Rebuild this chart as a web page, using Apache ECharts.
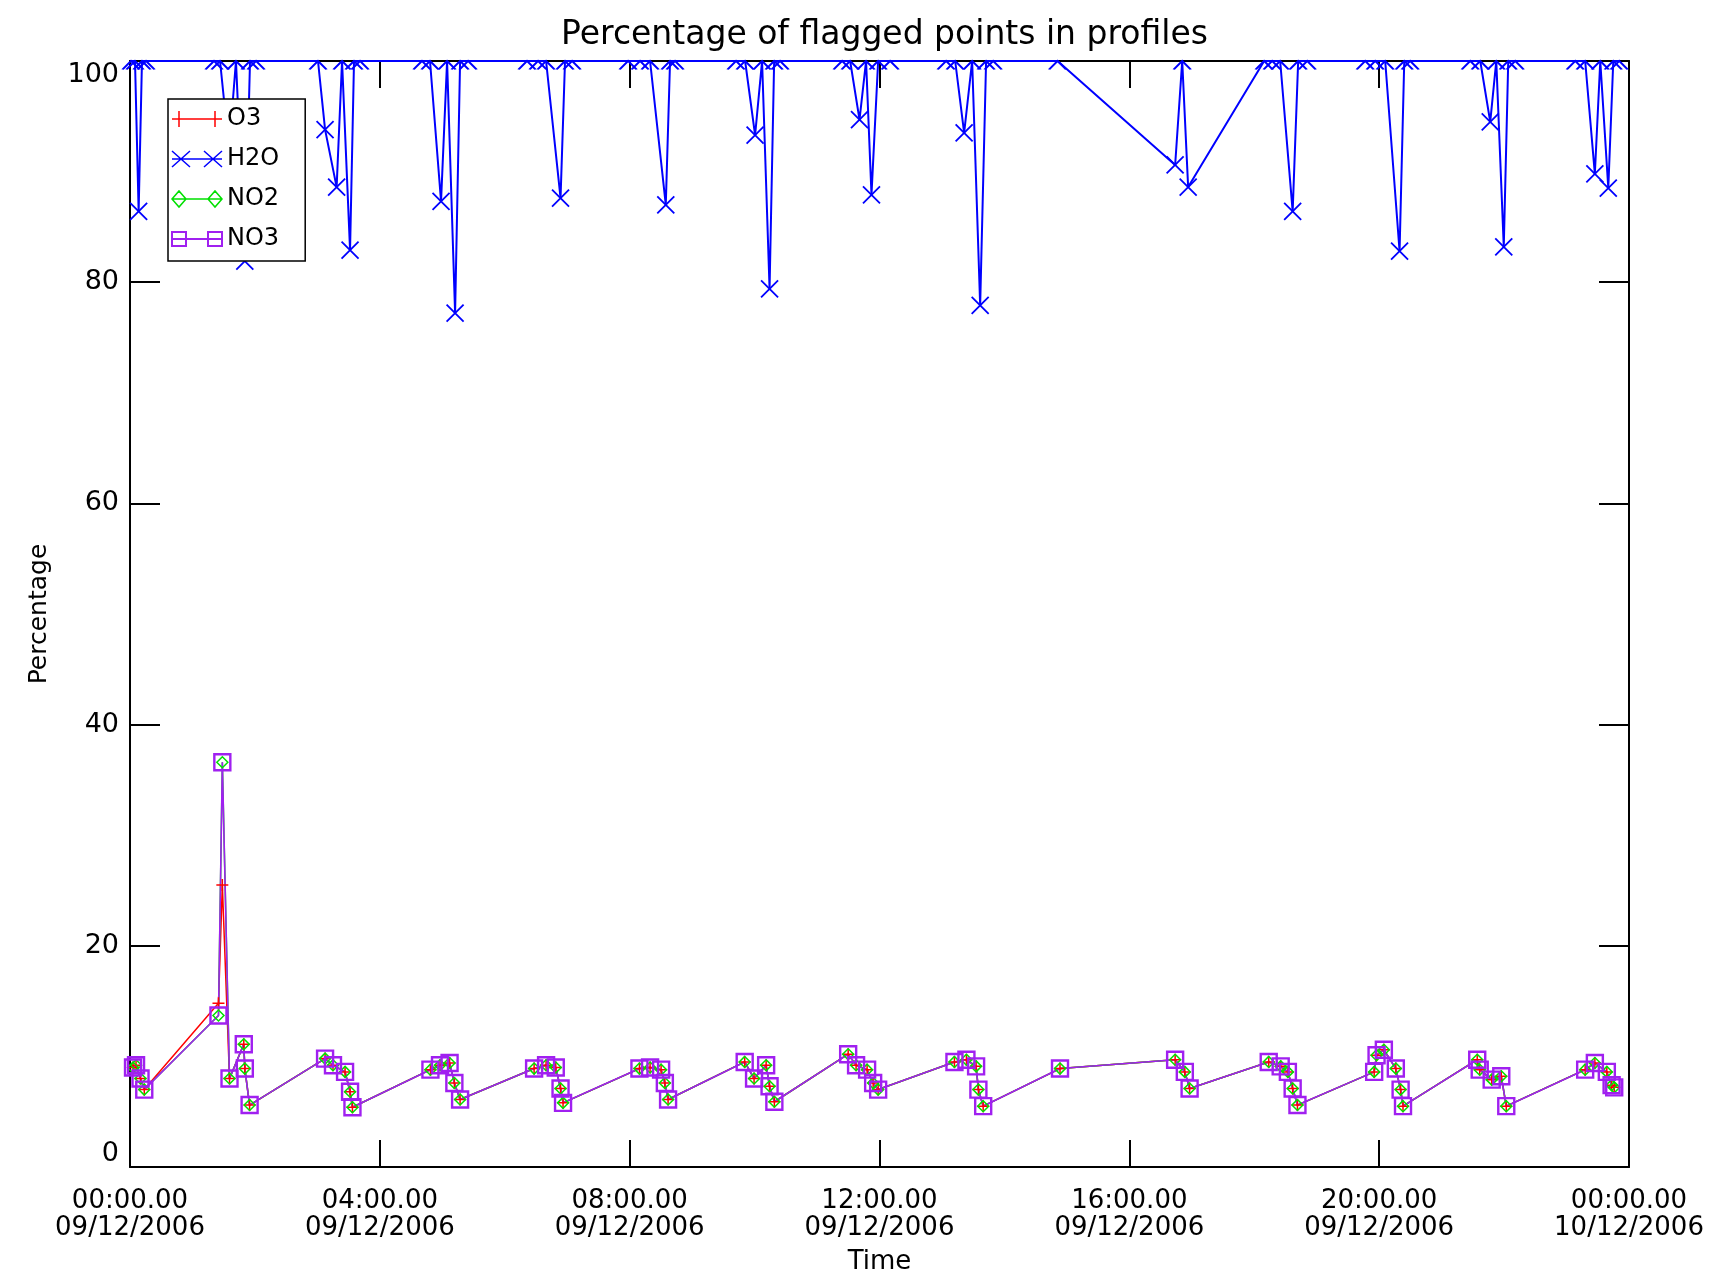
<!DOCTYPE html>
<html>
<head>
<meta charset="utf-8">
<script src="https://cdn.jsdelivr.net/npm/echarts@6/dist/echarts.min.js"></script>
<style>html,body{margin:0;padding:0;background:#fff}#c{width:1732px;height:1281px}</style>
</head>
<body>
<div id="c"></div>
<script>
// ---------- data (time in minutes since 00:00 on 09/12/2006) ----------
const seriesNames = ['O3', 'H2O', 'NO2', 'NO3'];
const xTickTimes = ['00:00.00', '04:00.00', '08:00.00', '12:00.00', '16:00.00', '20:00.00', '00:00.00'];
const xTickDates = ['09/12/2006', '09/12/2006', '09/12/2006', '09/12/2006', '09/12/2006', '09/12/2006', '10/12/2006'];
const yTicks = [0, 20, 40, 60, 80, 100];

const h2oTime = [1.0, 4.8, 8.3, 11.5, 15.4,
  80.7, 86.5, 95.1, 101.8, 110.3, 115.3, 121.1,
  180.6, 187.4, 198.5, 203.7, 211.4, 215.2, 221.0,
  280.5, 288.2, 298.8, 304.6, 312.3, 317.1, 324.8,
  381.4, 392.0, 399.7, 413.6, 417.9, 424.7,
  478.5, 490.0, 499.6, 514.7, 518.8, 523.6,
  582.2, 590.9, 600.5, 607.2, 614.4, 618.8, 624.5,
  684.1, 691.8, 700.8, 707.1, 712.3, 718.7, 730.2,
  784.0, 792.7, 801.3, 809.0, 816.7, 822.4, 829.2,
  891.1,
  1004.0, 1010.8, 1016.5,
  1089.5, 1097.2, 1104.9, 1116.9, 1122.2, 1130.9,
  1186.6, 1196.2, 1205.8, 1219.6, 1224.1, 1229.8,
  1287.5, 1297.1, 1306.7, 1312.5, 1319.7, 1324.0, 1330.7,
  1388.4, 1397.9, 1407.2, 1412.4, 1420.1, 1424.9, 1430.6];
const h2o = [100, 100, 86.4, 100, 100,
  100, 100, 92, 100, 81.9, 100, 100,
  100, 93.8, 88.6, 100, 82.9, 100, 100,
  100, 100, 87.3, 100, 77.2, 100, 100,
  100, 100, 100, 87.6, 100, 100,
  100, 100, 100, 87.0, 100, 100,
  100, 100, 93.3, 100, 79.4, 100, 100,
  100, 100, 94.7, 100, 87.9, 100, 100,
  100, 100, 93.5, 100, 77.9, 100, 100,
  100,
  90.6, 100, 88.6,
  100, 100, 100, 86.4, 100, 100,
  100, 100, 100, 82.8, 100, 100,
  100, 100, 94.5, 100, 83.2, 100, 100,
  100, 100, 89.8, 100, 88.5, 100, 100];

const nTime = [2.9, 5.8, 10.1, 13.7,
  85.0, 88.7, 95.6, 109.3, 110.3, 114.9,
  187.4, 195.0, 206.6, 211.4, 213.7,
  288.6, 297.8, 307.0, 311.6, 317.1,
  388.2, 399.7, 409.0, 413.6, 416.0,
  489.4, 499.6, 510.2, 513.8, 516.9,
  590.5, 599.5, 611.1, 614.4, 619.0,
  689.9, 697.5, 708.1, 713.9, 718.7,
  792.0, 803.5, 812.8, 815.0, 819.6,
  893.4,
  1004.0, 1013.3, 1017.9,
  1093.9, 1105.4, 1112.3, 1116.9, 1121.5,
  1195.2, 1197.5, 1204.5, 1216.0, 1220.6, 1222.9,
  1294.2, 1296.6, 1308.1, 1317.3, 1322.1,
  1397.9, 1407.2, 1418.7, 1423.3, 1425.8];
const no3 = [9.0, 9.2, 8.0, 7.0,
  13.7, 36.6, 8.0, 11.1, 8.9, 5.6,
  9.8, 9.2, 8.6, 6.8, 5.4,
  8.8, 9.2, 9.4, 7.6, 6.1,
  8.9, 9.2, 9.0, 7.1, 5.8,
  8.9, 9.0, 8.8, 7.6, 6.1,
  9.5, 8.0, 9.2, 7.3, 5.9,
  10.2, 9.2, 8.8, 7.6, 7.0,
  9.5, 9.7, 9.1, 7.0, 5.5,
  8.9,
  9.7, 8.6, 7.1,
  9.5, 9.1, 8.6, 7.1, 5.6,
  8.6, 10.1, 10.6, 8.9, 7.0, 5.5,
  9.7, 8.8, 7.9, 8.2, 5.5,
  8.8, 9.4, 8.6, 7.4, 7.2];
const no2 = [9.0, 9.2, 8.0, 7.0,
  13.7, 36.6, 8.0, 11.1, 8.9, 5.6,
  9.8, 9.2, 8.6, 6.8, 5.4,
  8.8, 9.2, 9.4, 7.6, 6.1,
  8.9, 9.2, 9.0, 7.1, 5.8,
  8.9, 9.0, 8.8, 7.6, 6.1,
  9.5, 8.0, 9.2, 7.3, 5.9,
  10.2, 9.2, 8.8, 7.6, 7.0,
  9.5, 9.7, 9.1, 7.0, 5.5,
  8.9,
  9.7, 8.6, 7.1,
  9.5, 9.1, 8.6, 7.1, 5.6,
  8.6, 10.1, 10.6, 8.9, 7.0, 5.5,
  9.7, 8.8, 7.9, 8.2, 5.5,
  8.8, 9.4, 8.6, 7.4, 7.2];
const o3 = [9.0, 9.2, 8.0, 7.0,
  14.8, 25.5, 8.0, 11.1, 8.9, 5.6,
  9.8, 9.2, 8.6, 6.8, 5.4,
  8.8, 9.2, 9.4, 7.6, 6.1,
  8.9, 9.2, 9.0, 7.1, 5.8,
  8.9, 9.0, 8.8, 7.6, 6.1,
  9.5, 8.0, 9.2, 7.3, 5.9,
  10.2, 9.2, 8.8, 7.6, 7.0,
  9.5, 9.7, 9.1, 7.0, 5.5,
  8.9,
  9.7, 8.6, 7.1,
  9.5, 9.1, 8.6, 7.1, 5.6,
  8.6, 10.1, 10.6, 8.9, 7.0, 5.5,
  9.7, 8.8, 7.9, 8.2, 5.5,
  8.8, 9.4, 8.6, 7.4, 7.2];

// ---------- styling ----------
const FONT = 'DejaVu Sans';
const RED = '#ff0000', BLUE = '#0000ff', GREEN = '#00e000', PURPLE = '#a020f0';
const CLEAR = 'rgba(0,0,0,0)';
const PLUS = 'path://M5,0L5,10M0,5L10,5';
const CROSS = 'path://M0,0L10,10M10,0L0,10';
const HALF_CROSS = 'path://M0,8L8,0L16,8';
const ICON_O3 = 'path://M0,8L50,8M7,0L7,16M43,0L43,16';
const ICON_H2O = 'path://M0,8L50,8M0,0L18,16M18,0L0,16M32,0L50,16M50,0L32,16';
const ICON_NO2 = 'path://M0,8L50,8M0,8L7,0L14,8L7,16Z M36,8L43,0L50,8L43,16Z';
const ICON_NO3 = 'path://M0,8L50,8M0,1L14,1L14,15L0,15Z M36,1L50,1L50,15L36,15Z';

const pairs = (t, v) => t.map((x, i) => [x, v[i]]);
const h2oData = h2oTime.map((x, i) => h2o[i] >= 100
  ? { value: [x, h2o[i]], symbol: HALF_CROSS, symbolSize: [17, 8.5], symbolOffset: [0, 4.25] }
  : [x, h2o[i]]);

const axisLineStyle = { color: '#000', width: 2 };

const option = {
  animation: false,
  backgroundColor: '#fff',
  title: {
    text: 'Percentage of flagged points in profiles',
    left: 879.5, top: 14, textAlign: 'center',
    textStyle: { fontFamily: FONT, fontSize: 33, fontWeight: 'normal', color: '#000' }
  },
  legend: {
    orient: 'vertical', left: 168, top: 99,
    padding: [8, 26, 10, 3],
    itemWidth: 50, itemHeight: 16, itemGap: 16,
    backgroundColor: '#fff', borderColor: '#000', borderWidth: 1.5,
    textStyle: { fontFamily: FONT, fontSize: 24, color: '#000', lineHeight: 24 },
    data: [
      { name: 'O3', icon: ICON_O3, itemStyle: { color: CLEAR, borderColor: RED, borderWidth: 1.5 } },
      { name: 'H2O', icon: ICON_H2O, itemStyle: { color: CLEAR, borderColor: BLUE, borderWidth: 1.5 } },
      { name: 'NO2', icon: ICON_NO2, itemStyle: { color: CLEAR, borderColor: GREEN, borderWidth: 1.5 } },
      { name: 'NO3', icon: ICON_NO3, itemStyle: { color: CLEAR, borderColor: PURPLE, borderWidth: 2 } }
    ]
  },
  grid: { left: 130, right: 103, top: 61, bottom: 114, containLabel: false, outerBoundsMode: 'none' },
  xAxis: [
    {
      type: 'value', position: 'bottom', min: 0, max: 1440, interval: 240,
      name: 'Time', nameLocation: 'middle', nameGap: 82,
      nameTextStyle: { fontFamily: FONT, fontSize: 26, color: '#000' },
      axisLine: { show: true, onZero: false, lineStyle: axisLineStyle },
      axisTick: { show: true, inside: true, length: 27, lineStyle: axisLineStyle },
      splitLine: { show: false },
      axisLabel: {
        fontFamily: FONT, fontSize: 26, color: '#000', margin: 21, lineHeight: 27,
        hideOverlap: false,
        formatter: v => { const i = Math.round(v / 240); return xTickTimes[i] + '\n' + xTickDates[i]; }
      }
    },
    {
      type: 'value', position: 'top', min: 0, max: 1440, interval: 240,
      axisLine: { show: true, onZero: false, lineStyle: axisLineStyle },
      axisTick: { show: true, inside: true, length: 27, lineStyle: axisLineStyle },
      splitLine: { show: false },
      axisLabel: { show: false }
    }
  ],
  yAxis: [
    {
      type: 'value', position: 'left', min: yTicks[0], max: yTicks[yTicks.length - 1], interval: 20,
      name: 'Percentage', nameLocation: 'middle', nameRotate: 90, nameGap: 78,
      nameTextStyle: { fontFamily: FONT, fontSize: 25, color: '#000' },
      axisLine: { show: true, onZero: false, lineStyle: axisLineStyle },
      axisTick: { show: true, inside: true, length: 30, lineStyle: axisLineStyle },
      splitLine: { show: false },
      axisLabel: {
        fontFamily: FONT, fontSize: 27, color: '#000', margin: 11,
        verticalAlignMinLabel: 'bottom', verticalAlignMaxLabel: 'top'
      }
    },
    {
      type: 'value', position: 'right', min: 0, max: 100, interval: 20,
      axisLine: { show: true, onZero: false, lineStyle: axisLineStyle },
      axisTick: { show: true, inside: true, length: 30, lineStyle: axisLineStyle },
      splitLine: { show: false },
      axisLabel: { show: false }
    }
  ],
  series: [
    {
      name: 'O3', type: 'line', data: pairs(nTime, o3),
      symbol: PLUS, symbolSize: 12,
      itemStyle: { color: CLEAR, borderColor: RED, borderWidth: 1.5 },
      lineStyle: { color: RED, width: 1.5 }
    },
    {
      name: 'H2O', type: 'line', data: h2oData,
      symbol: CROSS, symbolSize: 17,
      itemStyle: { color: CLEAR, borderColor: BLUE, borderWidth: 1.8 },
      lineStyle: { color: BLUE, width: 2 }
    },
    {
      name: 'NO2', type: 'line', data: pairs(nTime, no2),
      symbol: 'diamond', symbolSize: 11,
      itemStyle: { color: CLEAR, borderColor: GREEN, borderWidth: 1.5 },
      lineStyle: { color: GREEN, width: 1.5 }
    },
    {
      name: 'NO3', type: 'line', data: pairs(nTime, no3),
      symbol: 'rect', symbolSize: 16,
      itemStyle: { color: CLEAR, borderColor: PURPLE, borderWidth: 2.4 },
      lineStyle: { color: PURPLE, width: 1.6 }
    }
  ]
};

const chart = echarts.init(document.getElementById('c'), null, { renderer: 'canvas' });
chart.setOption(option);
</script>
</body>
</html>
